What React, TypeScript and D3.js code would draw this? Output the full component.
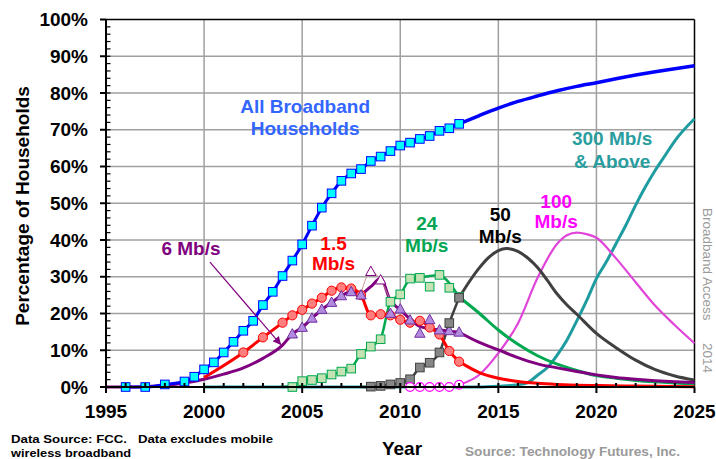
import React from "react";
import * as d3 from "d3";

type P = [number, number];

// ---------- data (year, % of households) ----------
const yTicks = [0, 10, 20, 30, 40, 50, 60, 70, 80, 90, 100];
const xTicks = [1995, 2000, 2005, 2010, 2015, 2020, 2025];

const allBroadbandObs: P[] = [
  [1996, 0], [1997, 0], [1998, 0.7], [1999, 1.5], [1999.5, 2.8], [2000, 4.8], [2000.5, 6.7],
  [2001, 9.4], [2001.5, 12.3], [2002, 15.3], [2002.5, 18], [2003, 22.3], [2003.5, 25.9],
  [2004, 30.2], [2004.5, 34.4], [2005, 38.8], [2005.5, 43.9], [2006, 48.8], [2006.5, 52.7],
  [2007, 56.1], [2007.5, 58.1], [2008, 59.3], [2008.5, 61.5], [2009, 62.7], [2009.5, 64.2],
  [2010, 65.7], [2010.5, 66.5], [2011, 67.5], [2011.5, 68.3], [2012, 69.7], [2012.5, 70.4], [2013, 71.6],
];
const allBroadbandForecast: P[] = [
  [2013, 71.6], [2014, 73.8], [2015, 75.9], [2016, 77.7], [2017, 79.2], [2018, 80.6], [2019, 81.8],
  [2020, 82.8], [2021, 83.9], [2022, 84.9], [2023, 85.8], [2024, 86.6], [2025, 87.4],
];

const mb1_5Start: P[] = [[2000, 2.6]];
const mb1_5Obs: P[] = [
  [2002, 9.4], [2003, 13.5], [2004, 17.5], [2004.5, 19.5], [2005, 21], [2005.5, 22.7], [2006, 24.3],
  [2006.5, 26.2], [2007, 27.1], [2007.5, 26.8], [2008, 25], [2008.5, 19.5], [2009, 19.8], [2009.5, 19.5],
  [2010, 18.3], [2010.5, 17.5], [2011, 18], [2011.5, 16.2], [2012, 14.3], [2012.5, 9.8], [2013, 6.9],
];
const mb1_5Forecast: P[] = [
  [2013, 6.9], [2014, 4], [2015, 2.4], [2016, 1.5], [2017, 1], [2018, 0.7], [2019, 0.5],
  [2020, 0.4], [2022, 0.25], [2025, 0.1],
];

const mb6Early: P[] = [
  [1995, 0], [1996, 0], [1997, 0.1], [1998, 0.4], [1999, 1.1], [2000, 2.1], [2001, 3.5],
  [2002, 5.2], [2003, 7.8], [2004, 11.4], [2004.5, 14.4], [2005, 16.2], [2005.5, 18.7], [2006, 21.1],
  [2006.5, 23], [2007, 24.8], [2007.5, 25.9], [2008, 25],
];
const mb6Mid: P[] = [
  [2008, 25], [2008.5, 27.3], [2009, 29.5], [2009.5, 23.5], [2010, 21], [2010.5, 18.5], [2011, 16.5],
  [2011.5, 15.9], [2012, 15.5], [2012.5, 15.2], [2013, 14.9],
];
const mb6Obs: P[] = [
  [2004.5, 14.4], [2005, 16.2], [2005.5, 18.7], [2006, 21.1], [2006.5, 23], [2007, 24.8], [2007.5, 25.9],
  [2008, 25], [2009.5, 20], [2010, 21.2], [2010.5, 18.2], [2011, 14.6], [2011.5, 18.3], [2012, 15.5],
  [2012.5, 15.3], [2013, 14.9],
];
const mb6Alt: P[] = [[2008, 25.5], [2008.5, 31.4], [2009, 29.1], [2009.5, 23.5]];
const mb6Hollow: P[] = [[2008.5, 31.4], [2009, 29.1]];
const mb6Forecast: P[] = [
  [2013, 14.9], [2014, 12.2], [2015, 10.1], [2016, 8.0], [2017, 6.3], [2018, 5.2], [2019, 4.2],
  [2020, 3.3], [2021, 2.6], [2022, 2.1], [2023, 1.7], [2024, 1.4], [2025, 1.2],
];

const mb24Line: P[] = [
  [2004, 0], [2004.5, 0.3], [2005, 1.5], [2005.5, 1.9], [2006, 2.4], [2006.5, 3.3], [2007, 4.2],
  [2007.5, 5.2], [2008, 9], [2008.5, 11], [2009, 13.2], [2009.5, 23.2], [2010, 25.2], [2010.5, 29.3],
  [2011, 29.8], [2011.5, 30.2], [2012, 30.5], [2012.5, 28.3], [2013, 24.5],
];
const mb24Obs: P[] = [
  [2004.5, 0], [2005, 1.6], [2005.5, 1.9], [2006, 2.4], [2006.5, 3.4], [2007, 4.2], [2007.5, 5],
  [2008, 9], [2008.5, 11], [2009, 13], [2009.5, 23.2], [2010, 25.2], [2010.5, 29.5], [2011, 29.7],
  [2011.5, 27.3], [2012, 30.5], [2012.5, 27], [2013, 24.5],
];
const mb24Forecast: P[] = [
  [2013, 24.5], [2014, 20.2], [2015, 15.5], [2016, 11.6], [2017, 8.5], [2018, 6.2], [2019, 4.5],
  [2020, 3.1], [2021, 2.4], [2022, 1.8], [2023, 1.4], [2024, 1.1], [2025, 0.8],
];

const mb50Obs: P[] = [
  [2008.5, 0.1], [2009, 0.3], [2009.5, 0.7], [2010, 1.1], [2010.5, 2.1], [2011, 5.3], [2011.5, 6.6],
  [2012, 9.4], [2012.5, 17.4], [2013, 24.3],
];
const mb50Forecast: P[] = [
  [2013, 24.3], [2013.5, 28.5], [2014, 32.2], [2014.5, 35.2], [2015, 37.1], [2015.4, 37.7], [2016, 36.9],
  [2016.5, 35.1], [2017, 32.5], [2017.5, 29], [2018, 25.3], [2018.5, 22.3], [2019, 19.8], [2020, 14.6],
  [2021, 10.7], [2022, 7.3], [2023, 4.7], [2024, 3], [2025, 1.9],
];

const mb100Obs: P[] = [[2010.5, 0], [2011, 0], [2011.5, 0], [2012, 0], [2012.5, 0], [2013, 0.6]];
const mb100Forecast: P[] = [
  [2013, 0.6], [2014, 3.2], [2015, 9.2], [2016, 17.3], [2017, 29.7], [2018, 39], [2018.5, 41.3],
  [2019, 42], [2019.5, 41.6], [2020, 40.6], [2021, 35], [2022, 28.5], [2023, 22.1], [2024, 16.8], [2025, 11.9],
];

const mb300: P[] = [
  [2000, 0], [2014, 0], [2015, 0.2], [2016, 0.6], [2016.5, 1.2], [2017, 3.2], [2017.5, 5.3], [2018, 8.7],
  [2018.5, 12.8], [2019, 18], [2019.5, 23.5], [2020, 29.5], [2020.5, 34], [2021, 39], [2021.5, 44],
  [2022, 49.5], [2022.5, 54.5], [2023, 59], [2023.5, 63], [2024, 67], [2025, 73],
];

// ---------- layout ----------
const W = 716, H = 459;
const x = d3.scaleLinear().domain([1995, 2025]).range([106, 694.5]);
const y = d3.scaleLinear().domain([0, 100]).range([387, 19.5]);
const line = d3.line<P>().x(d => x(d[0])).y(d => y(d[1])).curve(d3.curveMonotoneX);

const FONT = "'Liberation Sans', Arial, Helvetica, sans-serif";

const C = {
  blue: "#0000FF", cyan: "#00FFFF", bbText: "#3366FF",
  red: "#FF0000", redFill: "#FF7F7F",
  purple: "#800080", purpleFill: "#B28BDF", purpleStroke: "#7030A0",
  green: "#00A850", greenFill: "#C4E2B4", greenText: "#00A651",
  gray: "#404040", grayFill: "#878787",
  magenta: "#E044D8", magentaText: "#FF00FF",
  teal: "#1F9CA0", tealText: "#2A9D9F",
  grid: "#A0A0A0",
};

const tri = (cx: number, cy: number, s = 5.2) =>
  `M${cx},${cy - s * 1.05}L${cx + s},${cy + s * 0.75}L${cx - s},${cy + s * 0.75}Z`;

export default function App() {
  const minorY = d3.range(0, 100, 2);
  const minorX = d3.range(1996, 2025, 1);
  const arrowFrom: P = [2000.3, 34];
  const arrowTo: P = [2003.9, 11.6];

  const label = (lines: string[], yr: number, v: number, fill: string, dy = 22) => (
    <text x={x(yr)} y={y(v)} fill={fill} fontSize={19} fontWeight="bold" textAnchor="middle" fontFamily={FONT}>
      {lines.map((t, i) => (
        <tspan key={i} x={x(yr)} dy={i === 0 ? 0 : dy}>{t}</tspan>
      ))}
    </text>
  );

  return (
    <svg width={W} height={H} style={{ position: "absolute", left: 0, top: 0, background: "#fff" }} fontFamily={FONT}>
      <defs>
        <marker id="arr" viewBox="0 0 10 10" refX="9" refY="5" markerWidth="7" markerHeight="7" orient="auto">
          <path d="M0,0L10,5L0,10Z" fill={C.purple} />
        </marker>
      </defs>
      {/* grid */}
      {yTicks.slice(1, -1).map(v => (
        <line key={"gy" + v} x1={x(1995)} x2={x(2025)} y1={y(v)} y2={y(v)} stroke={C.grid} strokeWidth={1.5} />
      ))}
      {xTicks.slice(1, -1).map(v => (
        <line key={"gx" + v} x1={x(v)} x2={x(v)} y1={y(0)} y2={y(100)} stroke={C.grid} strokeWidth={1.5} />
      ))}
      {/* top & right border */}
      <line x1={x(1995)} x2={x(2025)} y1={y(100)} y2={y(100)} stroke="#000" strokeWidth={1.5} />
      <line x1={x(2025)} x2={x(2025)} y1={y(0)} y2={y(100)} stroke="#000" strokeWidth={1.5} />

      {/* lines */}
      <path d={line(mb300)!} fill="none" stroke={C.teal} strokeWidth={3} />
      <path d={line(mb100Forecast)!} fill="none" stroke={C.magenta} strokeWidth={2.2} />
      <path d={line([[2008, 0], ...mb50Obs])!} fill="none" stroke={C.gray} strokeWidth={2.5} />
      <path d={line(mb50Forecast)!} fill="none" stroke={C.gray} strokeWidth={3} />
      <path d={line(mb24Line)!} fill="none" stroke={C.green} strokeWidth={2.5} />
      <path d={line(mb24Forecast)!} fill="none" stroke={C.green} strokeWidth={3} />
      <path d={line(mb6Early)!} fill="none" stroke={C.purple} strokeWidth={3} />
      <path d={line(mb6Mid)!} fill="none" stroke={C.purple} strokeWidth={3} />
      <path d={line(mb6Forecast)!} fill="none" stroke={C.purple} strokeWidth={3} />
      <path d={line(mb6Alt)!} fill="none" stroke="#C08A8A" strokeWidth={0.9} />
      <path d={line([...mb1_5Start, ...mb1_5Obs])!} fill="none" stroke={C.red} strokeWidth={3} />
      <path d={line(mb1_5Forecast)!} fill="none" stroke={C.red} strokeWidth={3} />
      <path d={line(allBroadbandObs)!} fill="none" stroke={C.blue} strokeWidth={3} />
      <path d={line(allBroadbandForecast)!} fill="none" stroke={C.blue} strokeWidth={3.5} />

      {/* markers */}
      {mb1_5Obs.map((d, i) => (
        <circle key={"r" + i} cx={x(d[0])} cy={y(d[1])} r={4.6} fill={C.redFill} stroke={C.red} strokeWidth={1} />
      ))}
      {mb6Obs.map((d, i) => (
        <path key={"p" + i} d={tri(x(d[0]), y(d[1]))} fill={C.purpleFill} stroke={C.purpleStroke} strokeWidth={1} />
      ))}
      {mb6Hollow.map((d, i) => (
        <path key={"ph" + i} d={tri(x(d[0]), y(d[1]))} fill="#fff" stroke={C.purple} strokeWidth={1} />
      ))}
      {mb24Obs.map((d, i) => (
        <rect key={"g" + i} x={x(d[0]) - 4.3} y={y(d[1]) - 4.3} width={8.6} height={8.6} fill={C.greenFill} stroke={C.green} strokeWidth={1} />
      ))}
      {mb50Obs.map((d, i) => (
        <rect key={"k" + i} x={x(d[0]) - 4.3} y={y(d[1]) - 4.3} width={8.6} height={8.6} fill={C.grayFill} stroke={C.gray} strokeWidth={1} />
      ))}
      {mb100Obs.map((d, i) => (
        <circle key={"m" + i} cx={x(d[0])} cy={y(d[1])} r={4.4} fill="#fff" stroke={C.magentaText} strokeWidth={1.2} />
      ))}
      {allBroadbandObs.map((d, i) => (
        <rect key={"b" + i} x={x(d[0]) - 4.3} y={y(d[1]) - 4.3} width={8.6} height={8.6} fill={C.cyan} stroke={C.blue} strokeWidth={1} />
      ))}

      {/* axes */}
      <line x1={x(1995)} x2={x(1995)} y1={y(0) + 1} y2={y(100)} stroke="#000" strokeWidth={2} />
      <line x1={x(1995) - 1} x2={x(2025)} y1={y(0)} y2={y(0)} stroke="#000" strokeWidth={2} />
      {yTicks.map(v => (
        <line key={"ty" + v} x1={x(1995) - 6} x2={x(1995)} y1={y(v)} y2={y(v)} stroke="#000" strokeWidth={2} />
      ))}
      {minorY.map(v => (
        <line key={"my" + v} x1={x(1995)} x2={x(1995) + 4.5} y1={y(v)} y2={y(v)} stroke="#000" strokeWidth={1.2} />
      ))}
      {xTicks.map(v => (
        <line key={"tx" + v} x1={x(v)} x2={x(v)} y1={y(0)} y2={y(0) + 6} stroke="#000" strokeWidth={2} />
      ))}
      {minorX.map(v => (
        <line key={"mx" + v} x1={x(v)} x2={x(v)} y1={y(0)} y2={y(0) - 4} stroke="#000" strokeWidth={2} />
      ))}
      {yTicks.map(v => (
        <text key={"ly" + v} x={88} y={y(v) + 6.5} fontSize={19} fontWeight="bold" textAnchor="end">{v}%</text>
      ))}
      {xTicks.map(v => (
        <text key={"lx" + v} x={x(v)} y={418} fontSize={19} fontWeight="bold" textAnchor="middle">{v}</text>
      ))}
      <text transform="translate(29,206) rotate(-90)" fontSize={19} fontWeight="bold" textAnchor="middle">Percentage of Households</text>
      <text x={402} y={455} fontSize={19} fontWeight="bold" textAnchor="middle">Year</text>

      {/* series labels */}
      {label(["All Broadband", "Households"], 2005.15, 74.6, C.bbText)}
      {label(["300 Mb/s", "& Above"], 2020.8, 65.9, C.tealText, 23)}
      {label(["100", "Mb/s"], 2017.95, 48.7, C.magentaText, 20)}
      {label(["50", "Mb/s"], 2015.1, 45.2, "#000")}
      {label(["24", "Mb/s"], 2011.35, 42.7, C.greenText)}
      {label(["1.5", "Mb/s"], 2006.6, 37.3, C.red, 20)}
      {label(["6 Mb/s"], 1999.33, 35.9, C.purple)}
      <line x1={x(arrowFrom[0])} y1={y(arrowFrom[1])} x2={x(arrowTo[0])} y2={y(arrowTo[1])} stroke={C.purple} strokeWidth={1.2} markerEnd="url(#arr)" />

      {/* notes */}
      <text x={11} y={443} fontSize={11.5} fontWeight="bold" textLength={262} lengthAdjust="spacingAndGlyphs" style={{ whiteSpace: "pre" }}>Data Source: FCC.   Data excludes mobile</text>
      <text x={11} y={457} fontSize={11.5} fontWeight="bold" textLength={120} lengthAdjust="spacingAndGlyphs">wireless broadband</text>
      <text x={465} y={455.5} fontSize={12} fontWeight="bold" fill="#9A9A9A" textLength={215} lengthAdjust="spacingAndGlyphs">Source: Technology Futures, Inc.</text>
      <text transform="translate(703,208) rotate(90)" fontSize={13.5} fill="#9A9A9A">Broadband Access</text>
      <text transform="translate(703,343) rotate(90)" fontSize={13.5} fill="#9A9A9A">2014</text>
    </svg>
  );
}
